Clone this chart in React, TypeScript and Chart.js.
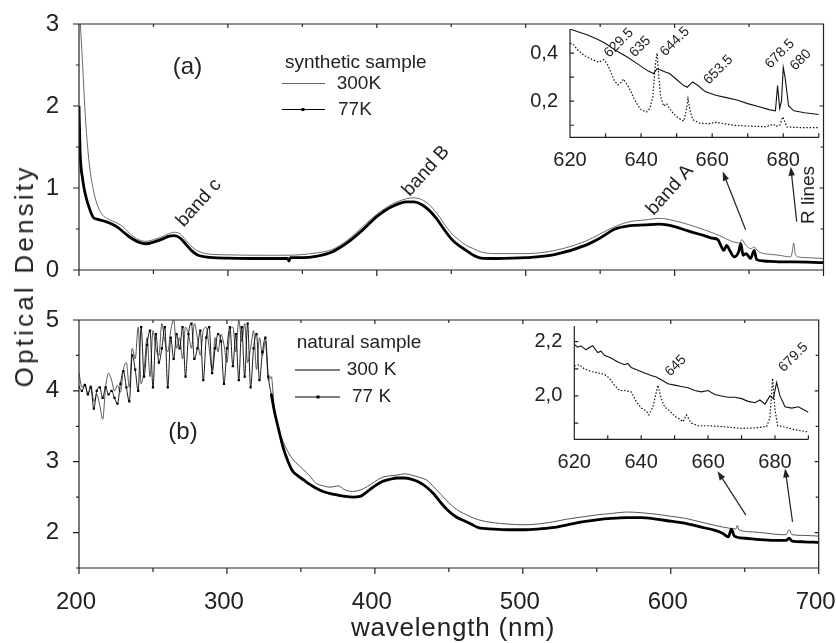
import React, { useEffect, useRef } from 'react';
import { Chart, registerables } from 'chart.js';

Chart.register(...registerables);

const FONT = "'Liberation Sans', Arial, Helvetica, sans-serif";
const INK = '#222';
Chart.defaults.font.family = FONT;
Chart.defaults.color = INK;

// ---------- Panel (a): synthetic sample ----------
const synWl300 = [200, 202.5, 204, 205.6, 207.4, 209.6, 212, 215, 218.6, 222, 226, 230, 235, 240, 245, 250, 255, 260, 264, 268, 272, 276, 280, 285, 290, 300, 320, 340, 360, 370, 380, 390, 400, 410, 420, 425, 430, 435, 440, 445, 450, 455, 460, 465, 470, 480, 500, 520, 540, 550, 560, 570, 580, 590, 600, 610, 620, 630, 640, 644, 645, 648, 651, 653.5, 656, 660, 665, 670, 678, 679, 680, 681, 683, 690, 700];
const syn300 = [3.3, 2.48, 1.95, 1.54, 1.22, 0.98, 0.81, 0.69, 0.63, 0.6, 0.57, 0.52, 0.43, 0.37, 0.35, 0.37, 0.4, 0.44, 0.46, 0.44, 0.36, 0.28, 0.23, 0.2, 0.19, 0.185, 0.18, 0.18, 0.21, 0.25, 0.36, 0.52, 0.68, 0.8, 0.87, 0.88, 0.86, 0.8, 0.7, 0.57, 0.45, 0.37, 0.3, 0.26, 0.22, 0.2, 0.2, 0.24, 0.35, 0.44, 0.53, 0.59, 0.61, 0.63, 0.6, 0.55, 0.49, 0.42, 0.34, 0.33, 0.37, 0.3, 0.26, 0.28, 0.23, 0.2, 0.19, 0.18, 0.16, 0.22, 0.33, 0.2, 0.16, 0.15, 0.14];
const synWl77 = [200, 200.7, 202.5, 204.7, 207.4, 209.6, 212, 218, 222, 226, 230, 235, 240, 245, 250, 255, 260, 264, 268, 272, 276, 280, 285, 290, 300, 320, 340, 341, 342, 350, 360, 370, 380, 390, 400, 410, 420, 425, 430, 435, 440, 445, 450, 455, 460, 465, 470, 480, 500, 520, 540, 550, 560, 570, 580, 590, 595, 600, 610, 620, 625, 629, 631, 633, 635, 637, 640, 643, 644.5, 646, 648, 651, 653.5, 655, 660, 670, 680, 700];
const syn77 = [2.0, 1.46, 1.1, 0.89, 0.73, 0.64, 0.62, 0.59, 0.56, 0.52, 0.46, 0.39, 0.34, 0.32, 0.34, 0.37, 0.41, 0.42, 0.39, 0.31, 0.23, 0.18, 0.16, 0.15, 0.145, 0.14, 0.14, 0.11, 0.15, 0.15, 0.17, 0.22, 0.33, 0.48, 0.65, 0.77, 0.83, 0.83, 0.8, 0.73, 0.63, 0.5, 0.38, 0.3, 0.24, 0.18, 0.145, 0.14, 0.15, 0.19, 0.3, 0.39, 0.5, 0.54, 0.55, 0.56, 0.55, 0.53, 0.47, 0.42, 0.39, 0.37, 0.3, 0.24, 0.3, 0.24, 0.16, 0.22, 0.32, 0.18, 0.2, 0.14, 0.24, 0.13, 0.11, 0.1, 0.1, 0.09];

// ---------- Panel (b): natural sample ----------
const natWl300 = [200, 202, 204, 206, 208, 210, 212, 214, 216, 218, 220, 222, 224, 226, 228, 230, 232, 234, 236, 238, 240, 242, 244, 246, 248, 250, 252, 254, 256, 258, 260, 262, 264, 266, 268, 270, 272, 274, 276, 278, 280, 282, 284, 286, 288, 290, 292, 294, 296, 298, 300, 302, 304, 306, 308, 310, 312, 314, 316, 318, 320, 322, 324, 326, 328, 330,
  332, 335, 338, 341, 345, 348, 352, 356, 360, 365, 370, 375, 380, 385, 390, 395, 400, 405, 410, 415, 420, 425, 430, 435, 440, 445, 450, 455, 460, 465, 470, 480, 490, 500, 510, 520, 530, 540, 550, 560, 570, 580, 590, 600, 610, 620, 630, 640, 644, 645, 646, 655, 665, 675, 678, 680, 682, 690, 700];
const nat300 = [4.25, 4.05, 4.1, 3.95, 4.08, 3.85, 3.95, 3.8, 3.6, 4.05, 4.25, 4.15, 4.0, 4.08, 3.98, 4.3,
  4.4, 4.05, 4.6, 4.45, 4.9, 4.1, 4.3, 4.75, 4.2, 4.85, 4.6, 4.5, 4.95, 4.7, 4.55, 4.85, 5.0, 4.6, 4.75, 4.45, 4.9, 4.8, 4.6, 4.95, 4.75, 4.5, 4.85, 4.9, 4.6, 4.3, 4.75, 4.55, 4.8, 4.65, 4.4, 4.85, 4.9, 4.55, 5.0, 4.7, 4.95, 4.4, 4.6, 4.85, 4.3, 4.75, 4.5, 4.7, 4.15, 4.2,
  3.75, 3.45, 3.28, 3.15, 3.02, 2.96, 2.88, 2.8, 2.7, 2.66, 2.64, 2.66, 2.6, 2.58, 2.6, 2.65, 2.72, 2.78, 2.8, 2.81, 2.83, 2.81, 2.78, 2.74, 2.64, 2.53, 2.42, 2.33, 2.27, 2.22, 2.18, 2.14, 2.12, 2.11, 2.12, 2.15, 2.19, 2.22, 2.25, 2.27, 2.29, 2.28, 2.26, 2.23, 2.2, 2.15, 2.1, 2.06, 2.05, 2.1, 2.04, 2.01, 1.99, 1.97, 1.97, 2.04, 1.97, 1.96, 1.95];
const natWl77 = [200, 202, 204, 206, 208, 210, 212, 214, 216, 218, 220, 222, 224, 226, 228, 230, 232, 234, 236, 238, 240, 242, 244, 246, 248, 250, 252, 254, 256, 258, 260, 262, 264, 266, 268, 270, 272, 274, 276, 278, 280, 282, 284, 286, 288, 290, 292, 294, 296, 298, 300, 302, 304, 306, 308, 310, 312, 314, 316, 318, 320, 322, 324, 326, 328, 330,
  332, 335, 338, 341, 344, 348, 352, 356, 360, 365, 370, 375, 380, 385, 390, 395, 400, 405, 410, 415, 420, 425, 430, 435, 440, 445, 450, 455, 460, 465, 470, 480, 490, 500, 510, 520, 530, 540, 550, 560, 570, 580, 590, 600, 610, 620, 630, 635, 639, 641, 643, 650, 660, 670, 678, 680, 682, 690, 700];
const nat77 = [4.05, 4.0, 4.08, 3.95, 4.05, 3.75, 4.0, 4.05, 3.9, 4.05, 3.95, 4.0, 3.9, 3.82, 4.1, 4.28,
  4.05, 3.85, 4.5, 4.3, 4.0, 4.9, 4.2, 4.65, 4.85, 4.05, 4.8, 4.4, 4.6, 4.9, 4.05, 4.75, 4.45, 4.8, 4.6, 4.9, 4.2, 4.8, 4.95, 4.45, 4.6, 4.85, 4.15, 4.75, 4.9, 4.25, 4.6, 4.8, 4.7, 4.1, 4.6, 4.9, 4.35, 4.8, 4.15, 4.9, 4.2, 4.95, 4.05, 4.6, 4.8, 4.15, 4.55, 4.75, 4.2, 3.95,
  3.72, 3.45, 3.2, 3.02, 2.88, 2.8, 2.74, 2.68, 2.63, 2.58, 2.55, 2.53, 2.51, 2.5, 2.51, 2.58, 2.66, 2.72, 2.75, 2.77, 2.77, 2.75, 2.71, 2.64, 2.54, 2.41, 2.3, 2.22, 2.17, 2.12, 2.07, 2.05, 2.04, 2.04, 2.05, 2.07, 2.11, 2.15, 2.18, 2.2, 2.21, 2.21, 2.19, 2.16, 2.13, 2.08, 2.03, 1.99, 1.94, 2.05, 1.95, 1.92, 1.9, 1.89, 1.89, 1.92, 1.88, 1.87, 1.86];

// ---------- Inset (a) ----------
const insAWl300 = [620, 622, 625, 628, 630, 633, 636, 639, 642, 643.5, 644.5, 645.5, 647, 648, 650, 652, 653, 654.5, 656, 658, 661, 664, 667, 670, 673, 676, 677.8, 678.4, 679, 679.5, 680, 680.5, 681.5, 683, 686, 690];
const insA300 = [0.5, 0.49, 0.475, 0.455, 0.44, 0.41, 0.385, 0.355, 0.325, 0.315, 0.335, 0.33, 0.32, 0.315, 0.29, 0.265, 0.258, 0.28, 0.265, 0.24, 0.225, 0.215, 0.205, 0.19, 0.178, 0.165, 0.16, 0.265, 0.17, 0.2, 0.34, 0.3, 0.18, 0.16, 0.152, 0.145];
const insAWl77 = [620, 621, 622, 624, 626, 628, 629.5, 630.5, 631.5, 632.5, 633.5, 634.5, 635, 636, 637, 638, 639, 640, 641.5, 642.5, 643.3, 644, 644.5, 645, 645.5, 646.3, 647.2, 648, 649, 650.5, 652, 652.7, 653.2, 653.8, 654.5, 656.6, 659, 661.3, 662, 666, 670, 675, 677.3, 678, 679, 679.9, 681, 685, 690];
const insA77 = [0.44, 0.435, 0.415, 0.39, 0.375, 0.362, 0.372, 0.355, 0.32, 0.285, 0.268, 0.28, 0.292, 0.27, 0.245, 0.21, 0.185, 0.165, 0.155, 0.17, 0.22, 0.35, 0.4, 0.3, 0.22, 0.18, 0.19, 0.17, 0.15, 0.13, 0.117, 0.16, 0.21, 0.16, 0.124, 0.108, 0.107, 0.112, 0.11, 0.1, 0.097, 0.094, 0.104, 0.095, 0.1, 0.135, 0.093, 0.09, 0.09];

// ---------- Inset (b) ----------
const insBWl300 = [620, 621, 622, 623.5, 624, 625.5, 627, 628, 629, 631, 633, 635, 636, 637, 639, 641, 643, 644.5, 646, 648, 650, 652, 654, 656, 658, 660, 662, 664, 666, 668, 670, 672, 674, 675.5, 677, 678.5, 679.5, 680.5, 681.5, 683, 685, 687, 690];
const insB300 = [2.19, 2.18, 2.185, 2.17, 2.175, 2.185, 2.16, 2.165, 2.15, 2.14, 2.125, 2.115, 2.12, 2.105, 2.095, 2.085, 2.075, 2.07, 2.06, 2.045, 2.04, 2.035, 2.03, 2.02, 2.015, 2.02, 2.005, 2.0, 1.995, 1.995, 1.99, 1.98, 1.975, 1.985, 1.97, 2.0, 1.99, 2.05, 2.0, 1.96, 1.955, 1.96, 1.94];
const insBWl77 = [620, 621.5, 623, 625, 627, 629, 630.5, 632, 633.5, 635, 637, 638.5, 640, 641.5, 642.3, 643.5, 645, 646, 647, 648.5, 650, 651.5, 652.5, 653.5, 655, 657, 660, 663, 666, 670, 674, 677.5, 678.5, 679.3, 680, 680.8, 683, 686, 690];
const insB77 = [2.11, 2.115, 2.1, 2.09, 2.085, 2.08, 2.065, 2.04, 2.02, 2.02, 2.015, 1.98, 1.955, 1.945, 1.93, 1.96, 2.04, 1.99, 1.96, 1.945, 1.925, 1.915, 1.905, 1.93, 1.9, 1.89, 1.89, 1.888, 1.885, 1.88, 1.882, 1.887, 1.92, 2.065, 1.95, 1.89, 1.885, 1.875, 1.867];

// ---------- tick labels ----------
const mainXLabels = [200, 300, 400, 500, 600, 700];
const panelAYLabels = [0, 1, 2, 3];
const panelBYLabels = [2, 3, 4, 5];
const insetXLabels = [620, 640, 660, 680];
const insetXMarks = [620, 630, 640, 650, 660, 670, 680, 690];
const insetAYLabels = [0.2, 0.4];
const insetAYMarks = [0.1, 0.2, 0.3, 0.4];
const insetBYLabels = [2.0, 2.2];
const insetBYMarks = [1.9, 2.0, 2.1, 2.2];

const pts = (xs: number[], ys: number[]) => xs.map((x, i) => ({ x, y: ys[i] }));
const near = (v: number, list: number[]) => list.some((t) => Math.abs(t - v) < 1e-6);
const comma = (v: number) => v.toFixed(1).replace('.', ',');

type Label = { text: string; x: number; y: number; size: number; rot?: number; align?: CanvasTextAlign };
type Seg = { x0: number; x1: number; y: number; color: string; dot?: number };
type Arrow = { x0: number; y0: number; x1: number; y1: number };

function overlayPlugin(ox: number, oy: number, labels: Label[], segs: Seg[], arrows: Arrow[]) {
  return {
    id: 'overlay',
    afterDraw(chart: any) {
      const ctx: CanvasRenderingContext2D = chart.ctx;
      ctx.save();
      for (const s of segs) {
        ctx.strokeStyle = s.color;
        ctx.lineWidth = 1;
        ctx.beginPath();
        ctx.moveTo(s.x0 - ox, s.y - oy);
        ctx.lineTo(s.x1 - ox, s.y - oy);
        ctx.stroke();
        if (s.dot) {
          ctx.fillStyle = '#000';
          ctx.fillRect(s.dot - ox - 1.5, s.y - oy - 1.5, 3, 3);
        }
      }
      const xs = chart.scales.x;
      const ys = chart.scales.y;
      for (const a of arrows) {
        const x0 = xs.getPixelForValue(a.x0);
        const y0 = ys.getPixelForValue(a.y0);
        const x1 = xs.getPixelForValue(a.x1);
        const y1 = ys.getPixelForValue(a.y1);
        const ang = Math.atan2(y1 - y0, x1 - x0);
        const L = 9;
        const W = 3.2;
        ctx.strokeStyle = INK;
        ctx.lineWidth = 1.2;
        ctx.beginPath();
        ctx.moveTo(x0, y0);
        ctx.lineTo(x1 - Math.cos(ang) * L * 0.8, y1 - Math.sin(ang) * L * 0.8);
        ctx.stroke();
        ctx.fillStyle = INK;
        ctx.beginPath();
        ctx.moveTo(x1, y1);
        ctx.lineTo(x1 - Math.cos(ang) * L - Math.sin(ang) * W, y1 - Math.sin(ang) * L + Math.cos(ang) * W);
        ctx.lineTo(x1 - Math.cos(ang) * L + Math.sin(ang) * W, y1 - Math.sin(ang) * L - Math.cos(ang) * W);
        ctx.closePath();
        ctx.fill();
      }
      for (const l of labels) {
        ctx.save();
        ctx.translate(l.x - ox, l.y - oy);
        ctx.rotate(((l.rot || 0) * Math.PI) / 180);
        ctx.font = `${l.size}px ${FONT}`;
        ctx.fillStyle = INK;
        ctx.textAlign = l.align || 'center';
        ctx.textBaseline = 'middle';
        ctx.fillText(l.text, 0, 0);
        ctx.restore();
      }
      ctx.restore();
    },
  };
}

function mainFramePlugin(xMajor: number, yMajor: number) {
  return {
    id: 'mainFrame',
    afterDatasetsDraw(chart: any) {
      const { ctx, chartArea: a, scales } = chart;
      const x = scales.x;
      const y = scales.y;
      const mult = (v: number, s: number) => Math.abs(v / s - Math.round(v / s)) < 1e-6;
      ctx.save();
      ctx.strokeStyle = INK;
      ctx.lineWidth = 1.2;
      ctx.beginPath();
      ctx.rect(a.left, a.top, a.right - a.left, a.bottom - a.top);
      for (const t of x.ticks) {
        const p = x.getPixelForValue(t.value);
        const major = mult(t.value, xMajor);
        ctx.moveTo(p, a.bottom);
        ctx.lineTo(p, a.bottom + (major ? 6 : 4));
        ctx.moveTo(p, a.top);
        ctx.lineTo(p, a.top + (major ? 4 : 3));
      }
      for (const t of y.ticks) {
        const p = y.getPixelForValue(t.value);
        const major = mult(t.value, yMajor);
        ctx.moveTo(a.left, p);
        ctx.lineTo(a.left - (major ? 6 : 3), p);
        ctx.moveTo(a.right, p);
        ctx.lineTo(a.right - (major ? 4 : 3), p);
      }
      ctx.stroke();
      ctx.restore();
    },
  };
}

function insetFramePlugin(xMarks: number[], yMarks: number[]) {
  return {
    id: 'insetFrame',
    afterDatasetsDraw(chart: any) {
      const { ctx, chartArea: a, scales } = chart;
      ctx.save();
      ctx.strokeStyle = INK;
      ctx.lineWidth = 1.2;
      ctx.beginPath();
      ctx.moveTo(a.left, a.top);
      ctx.lineTo(a.left, a.bottom);
      ctx.lineTo(a.right, a.bottom);
      for (const v of xMarks) {
        const p = scales.x.getPixelForValue(v);
        ctx.moveTo(p, a.bottom);
        ctx.lineTo(p, a.bottom - 4);
      }
      for (const v of yMarks) {
        const p = scales.y.getPixelForValue(v);
        ctx.moveTo(a.left, p);
        ctx.lineTo(a.left + 4, p);
      }
      ctx.stroke();
      ctx.restore();
    },
  };
}

function ChartCanvas({ left, top, width, height, make }: { left: number; top: number; width: number; height: number; make: () => any }) {
  const ref = useRef<HTMLCanvasElement>(null);
  useEffect(() => {
    const chart = new Chart(ref.current as HTMLCanvasElement, make());
    return () => chart.destroy();
  }, []);
  return <canvas ref={ref} width={width} height={height} style={{ position: 'absolute', left, top, width, height }} />;
}

const baseOpts = {
  responsive: false,
  animation: false,
  devicePixelRatio: 1,
  events: [],
  plugins: { legend: { display: false }, tooltip: { enabled: false } },
};

function makePanelA() {
  return {
    type: 'line',
    data: {
      datasets: [
        { data: pts(synWl77, syn77), borderColor: '#000', borderWidth: 2.8, pointRadius: 0, cubicInterpolationMode: 'monotone' },
        { data: pts(synWl300, syn300), borderColor: '#6a6a6a', borderWidth: 1, pointRadius: 0, cubicInterpolationMode: 'monotone' },
      ],
    },
    options: {
      ...baseOpts,
      layout: { padding: { top: 24, right: 12.5, left: 0, bottom: 0 } },
      scales: {
        x: {
          type: 'linear', min: 200, max: 700,
          grid: { display: false }, border: { display: false },
          ticks: { stepSize: 50, display: false },
          afterFit: (s: any) => { s.height = 30; s.paddingLeft = 0; s.paddingRight = 0; },
        },
        y: {
          min: 0, max: 3,
          grid: { display: false }, border: { display: false },
          ticks: { stepSize: 0.5, autoSkip: false, padding: 12, color: INK, font: { size: 24 }, callback: (v: number) => (near(v, panelAYLabels) ? String(v) : '') },
          afterFit: (s: any) => { s.width = 79; s.paddingTop = 0; s.paddingBottom = 0; },
        },
      },
    },
    plugins: [
      mainFramePlugin(100, 1),
      overlayPlugin(0, 0,
        [
          { text: '(a)', x: 187.5, y: 67, size: 24 },
          { text: 'synthetic sample', x: 285, y: 63, size: 19, align: 'left' },
          { text: '300K', x: 336.7, y: 83.5, size: 19, align: 'left' },
          { text: '77K', x: 338, y: 109.5, size: 19, align: 'left' },
          { text: 'band c', x: 199, y: 203, size: 19, rot: -48 },
          { text: 'band B', x: 426, y: 171, size: 19, rot: -48 },
          { text: 'band A', x: 670, y: 190, size: 19, rot: -48 },
          { text: 'R lines', x: 809, y: 195, size: 19, rot: -90 },
        ],
        [
          { x0: 281.7, x1: 325, y: 83.5, color: '#6a6a6a' },
          { x0: 281.7, x1: 325, y: 109.5, color: '#000', dot: 303 },
        ],
        [
          { x0: 647.7, y0: 0.49, x1: 632.3, y1: 1.2 },
          { x0: 682, y0: 0.59, x1: 678, y1: 1.26 },
        ]),
    ],
  };
}

function makePanelB() {
  return {
    type: 'line',
    data: {
      datasets: [
        {
          data: pts(natWl77, nat77), borderColor: '#000', borderWidth: 2.8, cubicInterpolationMode: 'monotone',
          pointStyle: 'rect', pointBackgroundColor: '#000', pointBorderWidth: 0,
          pointRadius: (c: any) => (c.raw && c.raw.x <= 330 ? 1.6 : 0),
          segment: { borderWidth: (c: any) => (c.p0.parsed.x < 330 ? 0.9 : 2.8) },
        },
        { data: pts(natWl300, nat300), borderColor: '#555', borderWidth: 1, pointRadius: 0, cubicInterpolationMode: 'monotone' },
      ],
    },
    options: {
      ...baseOpts,
      layout: { padding: { top: 20, right: 17.3, left: 0, bottom: 0 } },
      scales: {
        x: {
          type: 'linear', min: 200, max: 700,
          grid: { display: false }, border: { display: false },
          ticks: { stepSize: 50, autoSkip: false, maxRotation: 0, padding: 11.5, labelOffset: -3, color: INK, font: { size: 24 }, callback: (v: number) => (near(v, mainXLabels) ? String(v) : '') },
          afterFit: (s: any) => { s.height = 75; s.paddingLeft = 0; s.paddingRight = 0; },
        },
        y: {
          min: 1.5, max: 5,
          grid: { display: false }, border: { display: false },
          ticks: { stepSize: 0.5, autoSkip: false, padding: 12, color: INK, font: { size: 24 }, callback: (v: number) => (near(v, panelBYLabels) ? String(v) : '') },
          afterFit: (s: any) => { s.width = 79; s.paddingTop = 0; s.paddingBottom = 0; },
        },
      },
    },
    plugins: [
      mainFramePlugin(100, 1),
      overlayPlugin(0, 300,
        [
          { text: 'natural sample', x: 296.7, y: 343, size: 19, align: 'left' },
          { text: '300 K', x: 346.7, y: 370, size: 19, align: 'left' },
          { text: '77 K', x: 352, y: 397, size: 19, align: 'left' },
          { text: '(b)', x: 183, y: 432, size: 24 },
        ],
        [
          { x0: 295, x1: 340, y: 370, color: '#000' },
          { x0: 295, x1: 340, y: 397, color: '#000', dot: 318 },
        ],
        [
          { x0: 650.8, y0: 2.246, x1: 631.6, y1: 2.867 },
          { x0: 682.3, y0: 2.15, x1: 677.3, y1: 2.905 },
        ]),
    ],
  };
}

function makeInset(
  wl300: number[], v300: number[], wl77: number[], v77: number[],
  yMin: number, yMax: number, yLabels: number[], yMarks: number[],
  pad: { top: number; right: number }, yWidth: number, xHeight: number,
  ox: number, oy: number, labels: Label[],
) {
  return {
    type: 'line',
    data: {
      datasets: [
        { data: pts(wl300, v300), borderColor: '#111', borderWidth: 1.1, pointRadius: 0, tension: 0 },
        { data: pts(wl77, v77), borderColor: '#111', borderWidth: 1.2, borderDash: [1.5, 1.8], pointRadius: 0, tension: 0 },
      ],
    },
    options: {
      ...baseOpts,
      layout: { padding: { top: pad.top, right: pad.right, left: 0, bottom: 0 } },
      scales: {
        x: {
          type: 'linear', min: 620, max: 690,
          grid: { display: false }, border: { display: false },
          afterBuildTicks: (s: any) => { s.ticks = insetXLabels.map((v) => ({ value: v })); },
          ticks: { autoSkip: false, maxRotation: 0, padding: 3, color: INK, font: { size: 20 }, callback: (v: number) => String(v) },
          afterFit: (s: any) => { s.height = xHeight; s.paddingLeft = 0; s.paddingRight = 0; },
        },
        y: {
          min: yMin, max: yMax,
          grid: { display: false }, border: { display: false },
          afterBuildTicks: (s: any) => { s.ticks = yLabels.map((v) => ({ value: v })); },
          ticks: { autoSkip: false, padding: 4, color: INK, font: { size: 20 }, callback: (v: number) => comma(v) },
          afterFit: (s: any) => { s.width = yWidth; s.paddingTop = 0; s.paddingBottom = 0; },
        },
      },
    },
    plugins: [insetFramePlugin(insetXMarks, yMarks), overlayPlugin(ox, oy, labels, [], [])],
  };
}

const makeInsetA = () => makeInset(
  insAWl300, insA300, insAWl77, insA77, 0.05, 0.5, insetAYLabels, insetAYMarks,
  { top: 14, right: 11.2 }, 50, 37.7, 520, 15,
  [
    { text: '629.5', x: 619, y: 43, size: 14, rot: -45 },
    { text: '635', x: 640.3, y: 46.7, size: 14, rot: -45 },
    { text: '644.5', x: 675, y: 41.7, size: 14, rot: -45 },
    { text: '653.5', x: 718.3, y: 70, size: 14, rot: -45 },
    { text: '678.5', x: 780, y: 54, size: 14, rot: -45 },
    { text: '680', x: 800.7, y: 60, size: 14, rot: -45 },
  ],
);

const makeInsetB = () => makeInset(
  insBWl300, insB300, insBWl77, insB77, 1.84, 2.258, insetBYLabels, insetBYMarks,
  { top: 16, right: 16.6 }, 49.3, 35.7, 525, 310,
  [
    { text: '645', x: 675.7, y: 365.7, size: 14, rot: -45 },
    { text: '679.5', x: 793.3, y: 357.3, size: 14, rot: -45 },
  ],
);

export default function App() {
  return (
    <div style={{ position: 'fixed', left: 0, top: 0, width: 836, height: 643, background: '#fff', overflow: 'hidden' }}>
      <ChartCanvas left={0} top={0} width={836} height={300} make={makePanelA} />
      <ChartCanvas left={0} top={300} width={836} height={343} make={makePanelB} />
      <ChartCanvas left={520} top={15} width={310} height={160} make={makeInsetA} />
      <ChartCanvas left={525} top={310} width={300} height={165} make={makeInsetB} />
      <div style={{ position: 'absolute', left: 24, top: 276, transform: 'translate(-50%,-50%) rotate(-90deg)', fontFamily: FONT, fontSize: 26, letterSpacing: '3.2px', lineHeight: 1, whiteSpace: 'nowrap', color: INK }}>
        Optical Density
      </div>
      <div style={{ position: 'absolute', left: 453, top: 627, transform: 'translate(-50%,-50%)', fontFamily: FONT, fontSize: 26, letterSpacing: '0.8px', lineHeight: 1, whiteSpace: 'nowrap', color: INK }}>
        wavelength (nm)
      </div>
    </div>
  );
}
